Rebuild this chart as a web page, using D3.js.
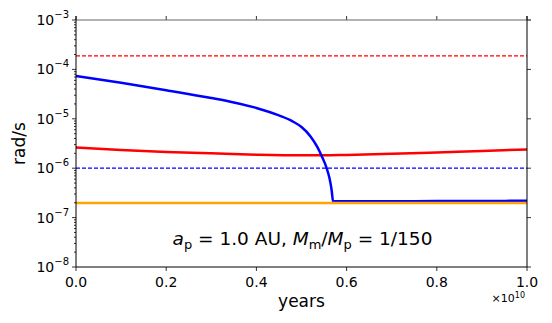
<!DOCTYPE html>
<html>
<head>
<meta charset="utf-8">
<script src="https://cdn.jsdelivr.net/npm/d3@7"></script>
<style>
  body { margin: 0; background: #fff; }
  svg { font-family: "DejaVu Sans", sans-serif; }
</style>
</head>
<body>
<div id="chart"></div>
<script>
// years, in units of 1e10
const blueX = [0, 0.1, 0.2, 0.3, 0.35, 0.4, 0.45, 0.48, 0.5, 0.52, 0.535, 0.545, 0.555, 0.562, 0.567, 0.570, 0.6, 0.7, 0.8, 0.9, 1.0];
const blueY = [7.33e-5, 5.37e-5, 3.80e-5, 2.63e-5, 2.14e-5, 1.66e-5, 1.17e-5, 8.9e-6, 6.8e-6, 4.4e-6, 2.7e-6, 1.74e-6, 1.05e-6, 6.3e-7, 3.5e-7, 2.14e-7, 2.14e-7, 2.15e-7, 2.16e-7, 2.17e-7, 2.19e-7];
const redX = [0, 0.1, 0.2, 0.3, 0.4, 0.5, 0.55, 0.6, 0.7, 0.8, 0.9, 1.0];
const redY = [2.63e-6, 2.34e-6, 2.14e-6, 2.0e-6, 1.88e-6, 1.82e-6, 1.82e-6, 1.86e-6, 1.95e-6, 2.09e-6, 2.24e-6, 2.4e-6];
const redDashed = 1.87e-4;
const blueDashed = 1.0e-6;
const orangeLevel = 1.98e-7;
const xTicks = [0, 0.2, 0.4, 0.6, 0.8, 1.0];
const yDecades = [-8, -7, -6, -5, -4, -3];

const width = 552, height = 323;
const margin = { top: 20, right: 25, bottom: 56, left: 76 };
const innerW = width - margin.left - margin.right;
const innerH = height - margin.top - margin.bottom;

const svg = d3.select("#chart").append("svg")
  .attr("width", width)
  .attr("height", height);

const x = d3.scaleLinear().domain([0, 1]).range([0, innerW]);
const y = d3.scaleLog().domain([1e-8, 1e-3]).range([innerH, 0]);

const g = svg.append("g")
  .attr("transform", `translate(${margin.left},${margin.top})`);

// minor ticks on left
const minor = [];
yDecades.slice(0, -1).forEach(e => {
  for (let k = 2; k <= 9; k++) minor.push(k * Math.pow(10, e));
});
g.append("g").selectAll("line").data(minor).join("line")
  .attr("x1", -2).attr("x2", 0)
  .attr("y1", d => y(d)).attr("y2", d => y(d))
  .attr("stroke", "#000").attr("stroke-width", 0.8);

// major ticks left + labels
const yt = g.append("g").selectAll("g").data(yDecades).join("g")
  .attr("transform", d => `translate(0,${y(Math.pow(10, d))})`);
yt.append("line").attr("x1", -4).attr("x2", 0).attr("stroke", "#000").attr("stroke-width", 0.8);
const ytxt = yt.append("text")
  .attr("x", -7).attr("dy", "0.35em")
  .attr("text-anchor", "end")
  .attr("font-size", 14);
ytxt.append("tspan").text("10");
ytxt.append("tspan").attr("dy", -7).attr("font-size", 10).text(d => "\u2212" + (-d));

// right ticks
g.append("g").selectAll("line").data(yDecades).join("line")
  .attr("x1", innerW).attr("x2", innerW + 4)
  .attr("y1", d => y(Math.pow(10, d))).attr("y2", d => y(Math.pow(10, d)))
  .attr("stroke", "#000").attr("stroke-width", 0.8);

// bottom ticks + labels
const xt = g.append("g").selectAll("g").data(xTicks).join("g")
  .attr("transform", d => `translate(${x(d)},${innerH})`);
xt.append("line").attr("y1", 0).attr("y2", 4).attr("stroke", "#000").attr("stroke-width", 0.8);
xt.append("text").attr("y", 20).attr("text-anchor", "middle").attr("font-size", 14)
  .text(d => d.toFixed(1));

// top ticks
g.append("g").selectAll("line").data(xTicks).join("line")
  .attr("x1", d => x(d)).attr("x2", d => x(d))
  .attr("y1", -4).attr("y2", 0)
  .attr("stroke", "#000").attr("stroke-width", 0.8);

// reference lines
g.append("line")
  .attr("x1", 0).attr("x2", innerW)
  .attr("y1", y(redDashed)).attr("y2", y(redDashed))
  .attr("stroke", "#ff0000").attr("stroke-width", 1.3)
  .attr("stroke-dasharray", "4,2");
g.append("line")
  .attr("x1", 0).attr("x2", innerW)
  .attr("y1", y(blueDashed)).attr("y2", y(blueDashed))
  .attr("stroke", "#0000ff").attr("stroke-width", 1.3)
  .attr("stroke-dasharray", "4,2");

const line = d3.line()
  .curve(d3.curveMonotoneX)
  .x(d => x(d[0]))
  .y(d => y(d[1]));

g.append("path")
  .attr("d", line(redX.map((d, i) => [d, redY[i]])))
  .attr("fill", "none").attr("stroke", "#ff0000").attr("stroke-width", 2.5);
g.append("path")
  .attr("d", line(blueX.map((d, i) => [d, blueY[i]])))
  .attr("fill", "none").attr("stroke", "#0000ff").attr("stroke-width", 2.5);

// orange level sits over the blue plateau
g.append("line")
  .attr("x1", 0).attr("x2", innerW)
  .attr("y1", y(orangeLevel)).attr("y2", y(orangeLevel))
  .attr("stroke", "#ffa500").attr("stroke-width", 2.5);

// spines
g.append("line").attr("x1", 0).attr("x2", innerW + 4).attr("y1", 0).attr("y2", 0)
  .attr("stroke", "#666").attr("stroke-width", 1.2);
g.append("line").attr("x1", 0).attr("x2", innerW).attr("y1", innerH).attr("y2", innerH)
  .attr("stroke", "#000").attr("stroke-width", 1);
g.append("line").attr("x1", 0).attr("x2", 0).attr("y1", -4).attr("y2", innerH)
  .attr("stroke", "#000").attr("stroke-width", 1);
g.append("line").attr("x1", innerW).attr("x2", innerW).attr("y1", -4).attr("y2", innerH)
  .attr("stroke", "#000").attr("stroke-width", 1);

// annotation
const ann = g.append("text")
  .attr("x", (173 + 432) / 2 - margin.left).attr("y", 245 - margin.top)
  .attr("text-anchor", "middle").attr("font-size", 18.5);
ann.append("tspan").attr("font-style", "italic").text("a");
ann.append("tspan").attr("dy", 4).attr("font-size", 13).text("p");
ann.append("tspan").attr("dy", -4).text(" = 1.0 AU, ");
ann.append("tspan").attr("font-style", "italic").text("M");
ann.append("tspan").attr("dy", 4).attr("font-size", 13).text("m");
ann.append("tspan").attr("dy", -4).text("/");
ann.append("tspan").attr("font-style", "italic").text("M");
ann.append("tspan").attr("dy", 4).attr("font-size", 13).text("p");
ann.append("tspan").attr("dy", -4).text(" = 1/150");

// axis labels
svg.append("text")
  .attr("x", margin.left + innerW / 2).attr("y", 307)
  .attr("text-anchor", "middle").attr("font-size", 17)
  .text("years");
svg.append("text")
  .attr("transform", `translate(25,${margin.top + innerH / 2}) rotate(-90)`)
  .attr("text-anchor", "middle").attr("font-size", 17)
  .text("rad/s");

// offset text
const off = svg.append("text")
  .attr("x", 525).attr("y", 302)
  .attr("text-anchor", "end").attr("font-size", 11);
off.append("tspan").text("\u00d710");
off.append("tspan").attr("dy", -4).attr("font-size", 8).text("10");
</script>
</body>
</html>
